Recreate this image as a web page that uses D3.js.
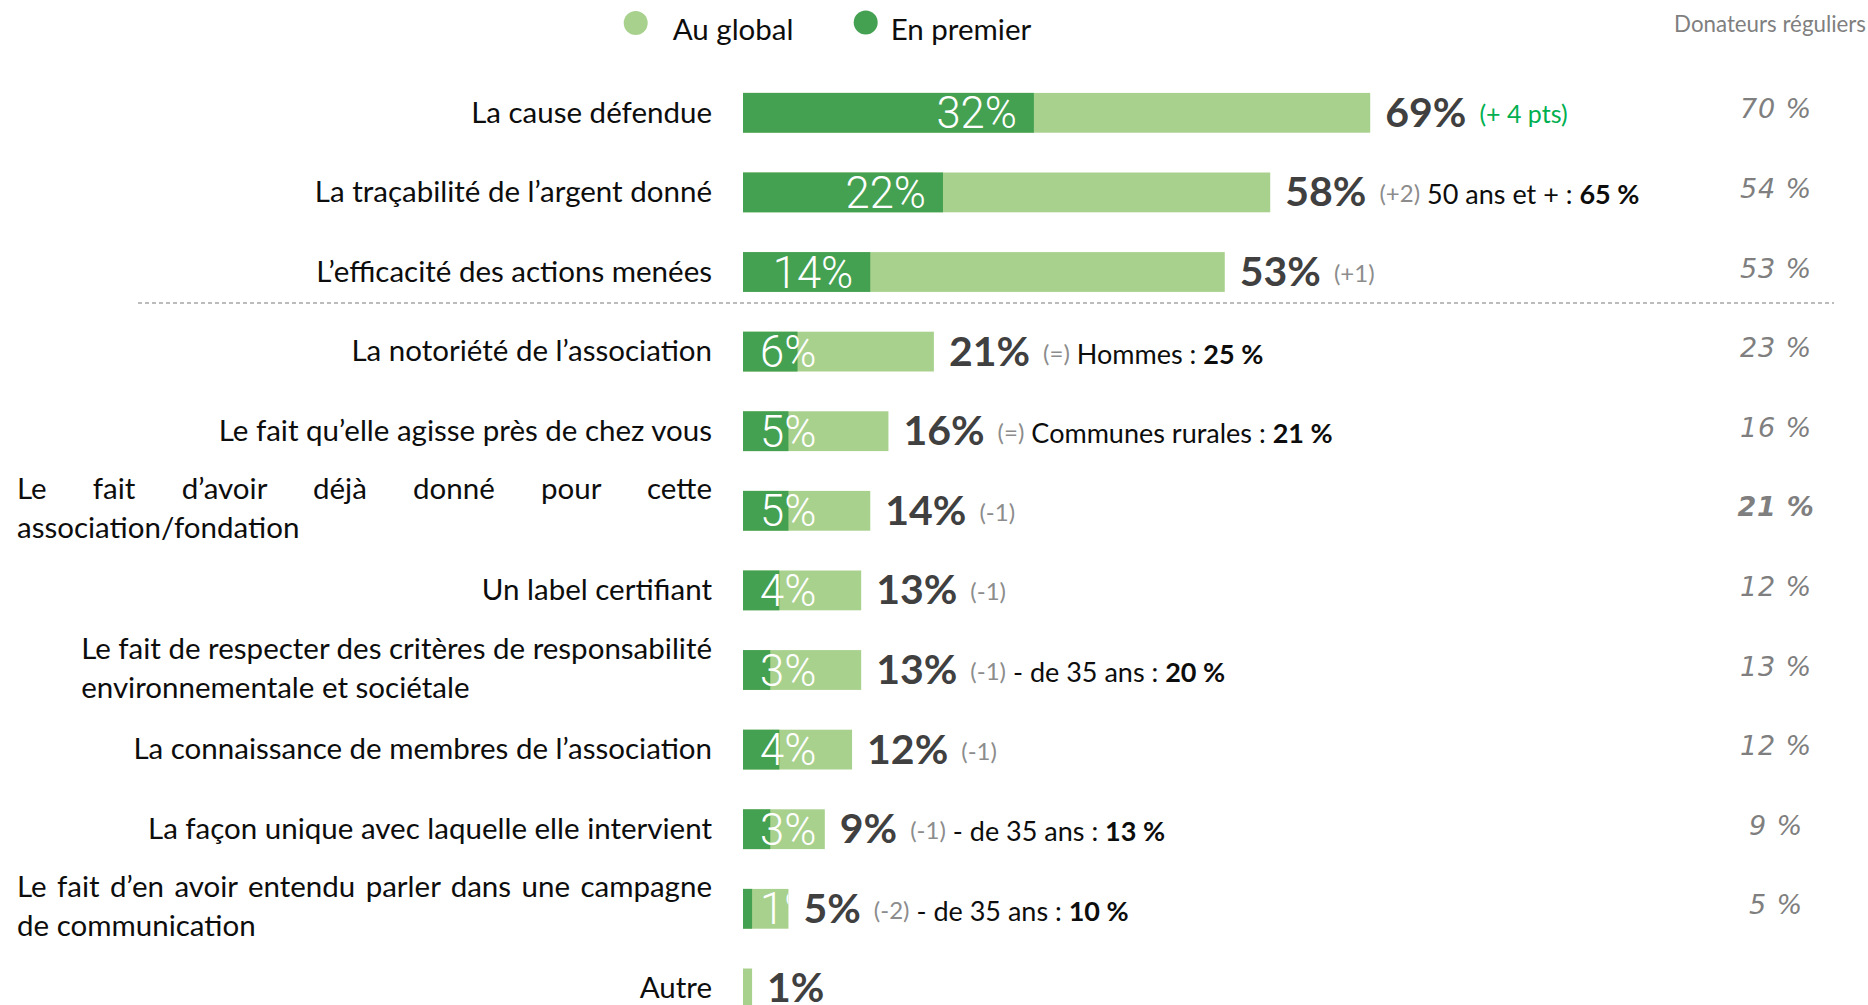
<!DOCTYPE html>
<html><head><meta charset="utf-8">
<script src="https://cdn.jsdelivr.net/npm/d3@7"></script>
<style>
html,body{margin:0;padding:0;background:#fff;}
svg{display:block;}
</style></head>
<body>
<svg id="chart" width="1868" height="1005"></svg>
<script>
// ---- data ----
const categories = [
  "La cause défendue",
  "La traçabilité de l’argent donné",
  "L’efficacité des actions menées",
  "La notoriété de l’association",
  "Le fait qu’elle agisse près de chez vous",
  "Le fait d’avoir déjà donné pour cette\nassociation/fondation",
  "Un label certifiant",
  "Le fait de respecter des critères de responsabilité\nenvironnementale et sociétale",
  "La connaissance de membres de l’association",
  "La façon unique avec laquelle elle intervient",
  "Le fait d’en avoir entendu parler dans une campagne\nde communication",
  "Autre"
];
const auGlobal  = [69, 58, 53, 21, 16, 14, 13, 13, 12, 9, 5, 1];
const enPremier = [32, 22, 14, 6, 5, 5, 4, 3, 4, 3, 1, 0];
const evolutions = ["(+ 4 pts)", "(+2)", "(+1)", "(=)", "(=)", "(-1)", "(-1)", "(-1)", "(-1)", "(-1)", "(-2)", ""];
const noteLabels = ["", "50 ans et + : ", "", "Hommes : ", "Communes rurales : ", "", "", "- de 35 ans : ", "", "- de 35 ans : ", "- de 35 ans : ", ""];
const noteValues = ["", "65 %", "", "25 %", "21 %", "", "", "20 %", "", "13 %", "10 %", ""];
const donateursReguliers = ["70 %", "54 %", "53 %", "23 %", "16 %", "21 %", "12 %", "13 %", "12 %", "9 %", "5 %", ""];
const donateursBold = [false, false, false, false, false, true, false, false, false, false, false, false];
const legendLabels = ["Au global", "En premier"];
const headerRight = "Donateurs réguliers";

// ---- styles ----
const LIGHT = "#A9D18E", DARK = "#45A152";
const FONT = "Lato, 'Open Sans', sans-serif";
const LABEL_SIZE = 29.5;
const svg = d3.select("#chart");

const x = d3.scaleLinear().domain([0, 100]).range([743, 1652]);
const y = d3.scaleBand().domain(categories).range([73, 1028.2]).paddingInner(0.5).paddingOuter(0.25);
const bw = y.bandwidth();
const cy = c => y(c) + bw / 2;

// legend
const legend = svg.append("g");
[[LIGHT, 635.7, 23, 672.7], [DARK, 865.7, 22.5, 890.7]].forEach((d, i) => {
  legend.append("circle").attr("cx", d[1]).attr("cy", d[2]).attr("r", 12).attr("fill", d[0]);
  legend.append("text").attr("x", d[3]).attr("y", 40).attr("font-family", FONT)
    .attr("font-size", 29.5).attr("fill", "#0d0d0d").text(legendLabels[i]);
});

// header right
svg.append("text").attr("x", 1866).attr("y", 31.5).attr("text-anchor", "end")
  .attr("font-family", FONT).attr("font-size", 22.3).attr("fill", "#7f7f7f").text(headerRight);

// dashed separator
svg.append("line").attr("x1", 138).attr("x2", 1834)
  .attr("y1", y(categories[2]) + bw + 11).attr("y2", y(categories[2]) + bw + 11)
  .attr("stroke", "#a6a6a6").attr("stroke-width", 1.5).attr("stroke-dasharray", "4,3");

// defs for clipping
const defs = svg.append("defs");

const rows = svg.append("g").selectAll("g").data(categories).join("g");

// category labels
const RIGHT = 712, JLEFT = 17;
const JUSTIFIED = new Set([categories[5], categories[10]]);
rows.each(function (c, i) {
  const g = d3.select(this);
  const lines = c.split("\n");
  if (lines.length === 1) {
    g.append("text").attr("x", RIGHT).attr("y", cy(c) + 9.7).attr("text-anchor", "end")
      .attr("font-family", FONT).attr("font-size", LABEL_SIZE).attr("fill", "#0d0d0d").text(c);
  } else {
    const y1 = cy(c) - 11.5;
    const t1 = g.append("text").attr("x", RIGHT).attr("y", y1).attr("text-anchor", "end")
      .attr("font-family", FONT).attr("font-size", LABEL_SIZE).attr("fill", "#0d0d0d").text(lines[0]);
    const w = t1.node().getComputedTextLength();
    let left = RIGHT - w;
    if (JUSTIFIED.has(c)) {
      const spaces = (lines[0].match(/ /g) || []).length;
      left = JLEFT;
      const ws = (RIGHT - JLEFT - w) / spaces;
      t1.attr("word-spacing", ws).attr("text-anchor", "start").attr("x", JLEFT);
    }
    lines.slice(1).forEach((l, k) => {
      g.append("text").attr("x", left).attr("y", y1 + 39 * (k + 1))
        .attr("font-family", FONT).attr("font-size", LABEL_SIZE).attr("fill", "#0d0d0d").text(l);
    });
  }
});

// bars
rows.append("rect").attr("x", x(0)).attr("y", c => y(c)).attr("height", bw)
  .attr("width", (c, i) => x(auGlobal[i]) - x(0)).attr("fill", LIGHT);
rows.append("rect").attr("x", x(0)).attr("y", c => y(c)).attr("height", bw)
  .attr("width", (c, i) => x(enPremier[i]) - x(0)).attr("fill", DARK);

// clip paths + white labels
rows.each(function (c, i) {
  if (!enPremier[i]) return;
  const id = "clip" + i;
  defs.append("clipPath").attr("id", id).append("rect")
    .attr("x", x(0)).attr("y", y(c)).attr("width", x(auGlobal[i]) - x(0)).attr("height", bw);
  const t = d3.select(this).append("text").attr("clip-path", `url(#${id})`)
    .attr("y", cy(c) + 15.5).attr("text-anchor", "end")
    .attr("font-family", "Roboto, sans-serif").attr("font-weight", 300).attr("font-size", 43.5)
    .attr("fill", "#ffffff").text(enPremier[i] + "%");
  const w = t.node().getComputedTextLength();
  t.attr("x", Math.max(x(enPremier[i]) - 17, x(0) + 17 + w));
});

// value labels, evolutions, notes
rows.each(function (c, i) {
  const g = d3.select(this);
  const v = g.append("text").attr("x", x(auGlobal[i]) + 15).attr("y", cy(c) + 14)
    .attr("font-family", FONT).attr("font-weight", 700).attr("font-size", 41)
    .attr("fill", "#404040").text(auGlobal[i] + "%");
  let xe = x(auGlobal[i]) + 15 + v.node().getComputedTextLength();
  if (evolutions[i]) {
    const e = g.append("text").attr("x", xe + 13).attr("y", cy(c) + 10)
      .attr("font-family", FONT).attr("font-size", i === 0 ? 25 : 24)
      .attr("fill", i === 0 ? "#00B050" : "#8c8c8c").text(evolutions[i]);
    xe = xe + 13 + e.node().getComputedTextLength();
  }
  if (noteLabels[i]) {
    const n = g.append("text").attr("x", xe + 7).attr("y", cy(c) + 12)
      .attr("font-family", FONT).attr("font-size", 27).attr("fill", "#0d0d0d");
    n.append("tspan").text(noteLabels[i]);
    n.append("tspan").attr("font-weight", 700).text(noteValues[i]);
  }
  if (donateursReguliers[i]) {
    g.append("text").attr("x", 1776).attr("y", cy(c) + 5.5).attr("text-anchor", "middle")
      .attr("font-family", "'DejaVu Sans', sans-serif").attr("font-style", "italic")
      .attr("font-weight", donateursBold[i] ? 700 : 400)
      .attr("font-size", 27).attr("letter-spacing", 0.8).attr("fill", "#7f7f7f")
      .text(donateursReguliers[i]);
  }
});
</script>
</body></html>
